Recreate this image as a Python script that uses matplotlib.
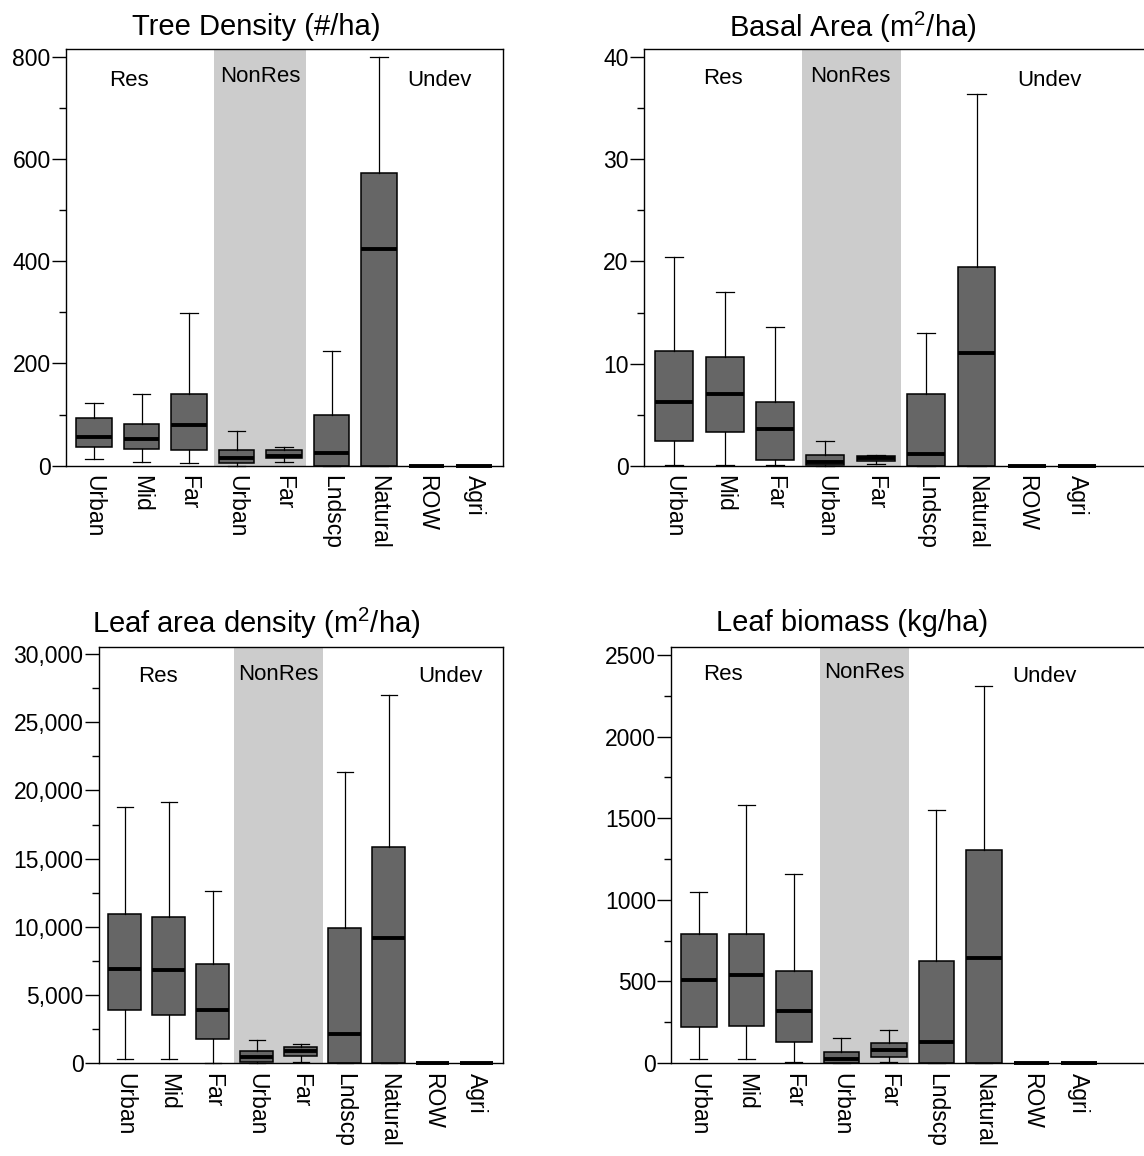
import matplotlib
matplotlib.use("Agg")
import matplotlib.pyplot as plt
import matplotlib.transforms as mtrans
from matplotlib.ticker import MultipleLocator, FuncFormatter

plt.rcParams['font.family'] = ['Liberation Sans', 'DejaVu Sans']
plt.rcParams['mathtext.default'] = 'regular'

categories = ['Urban', 'Mid', 'Far', 'Urban', 'Far', 'Lndscp', 'Natural', 'ROW', 'Agri']
groups = ['Res', 'NonRes', 'Undev']

# Tree density (#/ha)
td_lo = [12, 8, 6, 0, 8, 0, 0, 0, 0]
td_q1 = [37, 32, 31, 4.5, 15, 0, 0, 0, 0]
td_med = [56, 52, 79, 15.5, 19, 24, 425, 0, 0]
td_q3 = [93, 81, 141, 31, 30, 100, 574, 0, 0]
td_hi = [123, 140, 299, 68, 37, 225, 800, 0, 0]

# Basal area (m2/ha)
ba_lo = [0.1, 0.1, 0.05, 0, 0.2, 0, 0, 0, 0]
ba_q1 = [2.45, 3.3, 0.56, 0.05, 0.46, 0, 0, 0, 0]
ba_med = [6.26, 7.0, 3.6, 0.36, 0.75, 1.1, 11.0, 0, 0]
ba_q3 = [11.2, 10.6, 6.2, 1.08, 0.95, 7.05, 19.5, 0, 0]
ba_hi = [20.4, 17.0, 13.6, 2.4, 1.0, 13.0, 36.4, 0, 0]

# Leaf area density (m2/ha)
la_lo = [330, 330, 50, 0, 70, 0, 0, 0, 0]
la_q1 = [3916, 3528, 1815, 100, 571, 0, 0, 0, 0]
la_med = [6896, 6867, 3894, 454, 893, 2137, 9187, 0, 0]
la_q3 = [10923, 10703, 7262, 915, 1230, 9897, 15827, 0, 0]
la_hi = [18755, 19165, 12628, 1742, 1450, 21340, 27027, 0, 0]

# Leaf biomass (kg/ha)
lb_lo = [26, 26, 8, 0, 6, 0, 0, 0, 0]
lb_q1 = [222, 225, 129, 3, 39, 0, 0, 0, 0]
lb_med = [507, 541, 319, 26, 78, 129, 643, 0, 0]
lb_q3 = [789, 792, 564, 66, 121, 627, 1303, 0, 0]
lb_hi = [1050, 1581, 1160, 153, 200, 1552, 2312, 0, 0]

W, H = 1144, 1156
fig = plt.figure(figsize=(W / 100, H / 100), dpi=100)


def px_axes(left, right, top, bottom):
    return fig.add_axes([left / W, 1 - bottom / H, (right - left) / W, (bottom - top) / H])


panels = [
    dict(rect=(66, 503, 49, 465.6), xlim=(-0.59, 8.61), ylim=(0, 816), major=200, minor=100,
         fmt='{:.0f}', title='Tree Density (#/ha)', tpos=(256, 27),
         data=(td_lo, td_q1, td_med, td_q3, td_hi), span=(2.53, 4.47),
         lab=[(0.74, 80), (3.5, 76), (7.27, 80)]),
    dict(rect=(644, 1170, 49, 465.7), xlim=(-0.6, 9.84), ylim=(0, 40.8), major=10, minor=5,
         fmt='{:.0f}', title='Basal Area (m$^2$/ha)', tpos=(853, 27),
         data=(ba_lo, ba_q1, ba_med, ba_q3, ba_hi), span=(2.53, 4.5),
         lab=[(0.97, 78), (3.5, 76), (7.45, 80)]),
    dict(rect=(98.7, 503, 646.7, 1063.3), xlim=(-0.59, 8.6), ylim=(0, 30534), major=5000, minor=2500,
         fmt='{:,.0f}', title='Leaf area density (m$^2$/ha)', tpos=(256, 623),
         data=(la_lo, la_q1, la_med, la_q3, la_hi), span=(2.49, 4.5),
         lab=[(0.76, 677), (3.5, 675), (7.4, 677)]),
    dict(rect=(671.3, 1170, 647.3, 1063), xlim=(-0.58, 9.92), ylim=(0, 2547), major=500, minor=250,
         fmt='{:.0f}', title='Leaf biomass (kg/ha)', tpos=(852, 623),
         data=(lb_lo, lb_q1, lb_med, lb_q3, lb_hi), span=(2.56, 4.42),
         lab=[(0.51, 675), (3.48, 673), (7.28, 677)]),
]

for p in panels:
    l, r, t, b = p['rect']
    ax = px_axes(l, r, t, b)
    lo, q1, med, q3, hi = p['data']
    stats = []
    for i, name in enumerate(categories):
        stats.append(dict(label=name, whislo=lo[i], q1=q1[i], med=med[i], q3=q3[i],
                          whishi=hi[i], fliers=[]))
    ax.axvspan(p['span'][0], p['span'][1], color='#cccccc', zorder=0, lw=0)
    res = ax.bxp(stats, positions=range(len(categories)), widths=0.75, capwidths=0.36,
                 patch_artist=True, showfliers=False,
                 boxprops=dict(facecolor='#666666', edgecolor='black', linewidth=1.1),
                 medianprops=dict(color='black', linewidth=2.8, solid_capstyle='butt'),
                 whiskerprops=dict(color='black', linewidth=0.9),
                 capprops=dict(color='black', linewidth=0.9))
    for key in ('boxes', 'medians', 'whiskers', 'caps'):
        for art in res[key]:
            art.set_clip_on(False)
    ax.set_xlim(*p['xlim'])
    ax.set_ylim(*p['ylim'])
    ax.yaxis.set_major_locator(MultipleLocator(p['major']))
    ax.yaxis.set_minor_locator(MultipleLocator(p['minor']))
    f = p['fmt']
    ax.yaxis.set_major_formatter(FuncFormatter(lambda v, pos, f=f: f.format(v)))
    ax.tick_params(axis='y', which='major', direction='out', length=10, width=1.0,
                   labelsize=16.5, pad=1)
    ax.tick_params(axis='y', which='minor', direction='out', length=5, width=1.0)
    ax.set_xticks(range(len(categories)))
    ax.set_xticklabels(categories, rotation=270, fontsize=16.5, va='top', ha='center')
    ax.tick_params(axis='x', length=0, pad=7)
    for s in ax.spines.values():
        s.set_linewidth(1.0)
    tr = mtrans.blended_transform_factory(ax.transData, fig.transFigure)
    for (gx, gy), g in zip(p['lab'], groups):
        ax.text(gx, 1 - gy / H, g, transform=tr, ha='center', va='center', fontsize=16)
    fig.text(p['tpos'][0] / W, 1 - p['tpos'][1] / H, p['title'], ha='center', va='center',
             fontsize=21)

fig.savefig('out.png', dpi=100)
